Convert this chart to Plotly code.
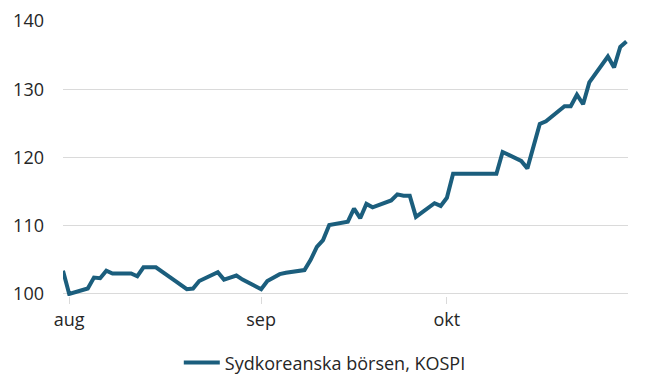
import plotly.graph_objects as go

# --- Data ---
dates = [
    "2025-07-31", "2025-08-01",
    "2025-08-04", "2025-08-05", "2025-08-06", "2025-08-07", "2025-08-08",
    "2025-08-11", "2025-08-12", "2025-08-13", "2025-08-14", "2025-08-15",
    "2025-08-18", "2025-08-19", "2025-08-20", "2025-08-21", "2025-08-22",
    "2025-08-25", "2025-08-26", "2025-08-27", "2025-08-28", "2025-08-29",
    "2025-09-01", "2025-09-02", "2025-09-03", "2025-09-04", "2025-09-05",
    "2025-09-08", "2025-09-09", "2025-09-10", "2025-09-11", "2025-09-12",
    "2025-09-15", "2025-09-16", "2025-09-17", "2025-09-18", "2025-09-19",
    "2025-09-22", "2025-09-23", "2025-09-24", "2025-09-25", "2025-09-26",
    "2025-09-29", "2025-09-30", "2025-10-01", "2025-10-02", "2025-10-03",
    "2025-10-06", "2025-10-07", "2025-10-08", "2025-10-09", "2025-10-10",
    "2025-10-13", "2025-10-14", "2025-10-15", "2025-10-16", "2025-10-17",
    "2025-10-20", "2025-10-21", "2025-10-22", "2025-10-23", "2025-10-24",
    "2025-10-27", "2025-10-28", "2025-10-29", "2025-10-30",
]

kospi = [
    103.4, 100.0,
    100.8, 102.4, 102.3, 103.4, 103.0,
    103.0, 102.6, 103.9, 103.9, 103.9,
    102.0, 101.3, 100.7, 100.8, 101.9,
    103.2, 102.1, 102.4, 102.7, 102.1,
    100.7, 101.9, 102.4, 102.9, 103.1,
    103.5, 105.0, 106.9, 107.9, 110.1,
    110.6, 112.5, 111.1, 113.2, 112.7,
    113.7, 114.6, 114.4, 114.4, 111.3,
    113.3, 112.9, 114.1, 117.6, 117.6,
    117.6, 117.6, 117.6, 117.6, 120.8,
    119.5, 118.4, 121.6, 124.9, 125.3,
    127.5, 127.5, 129.2, 127.8, 131.0,
    134.8, 133.2, 136.2, 137.0,
]

series_name = "Sydkoreanska börsen, KOSPI"

x_tick_dates = ["2025-08-01", "2025-09-01", "2025-10-01"]
x_tick_labels = ["aug", "sep", "okt"]

y_ticks = [100, 110, 120, 130, 140]

# --- Styling ---
LINE_COLOR = "#1b5e7d"
GRID_COLOR = "#dadada"
TEXT_COLOR = "#262626"
FONT = "Open Sans, Noto Sans, DejaVu Sans, sans-serif"

fig = go.Figure()
fig.add_trace(go.Scatter(
    x=dates, y=kospi, mode="lines", name=series_name,
    line=dict(color=LINE_COLOR, width=4, shape="linear"),
    showlegend=True,
))

# The page body has an 8px default margin, so the figure is sized to fit.
fig.update_layout(
    width=640, height=380,
    margin=dict(l=55, r=20, t=13, b=92, autoexpand=False),
    paper_bgcolor="white", plot_bgcolor="white",
    font=dict(family=FONT, size=18, color=TEXT_COLOR),
    showlegend=True,
    legend=dict(
        orientation="h",
        xref="container", yref="container",
        x=0.495, xanchor="center",
        y=0.066, yanchor="middle",
        font=dict(size=18, color=TEXT_COLOR),
        itemwidth=36,
    ),
)

fig.update_xaxes(
    type="date",
    range=["2025-07-31", "2025-10-30 06:00"],
    tickmode="array", tickvals=x_tick_dates, ticktext=x_tick_labels,
    showgrid=False, zeroline=False, showline=False,
    ticks="outside", ticklen=7, tickwidth=1, tickcolor=GRID_COLOR,
    tickfont=dict(size=18, color=TEXT_COLOR),
    automargin=False,
)

fig.update_yaxes(
    range=[99.7, 140],
    tickmode="array", tickvals=y_ticks,
    showgrid=True, gridcolor=GRID_COLOR, gridwidth=1,
    zeroline=False, showline=False,
    ticks="", ticklabelstandoff=18,
    tickfont=dict(size=18, color=TEXT_COLOR),
    automargin=False,
)

fig.write_html("out.html")
